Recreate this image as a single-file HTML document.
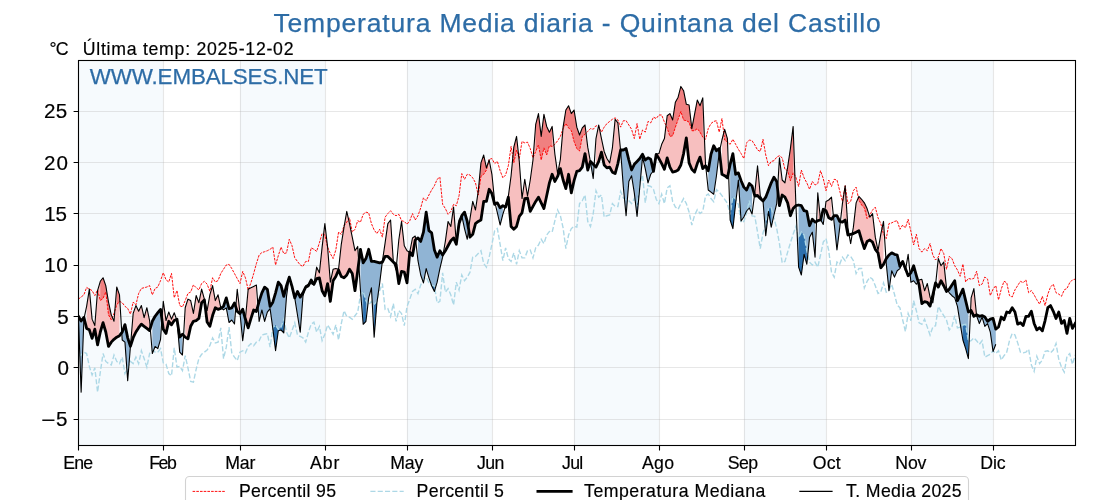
<!DOCTYPE html>
<html><head><meta charset="utf-8"><title>Temperatura Media diaria - Quintana del Castillo</title>
<style>html,body{margin:0;padding:0;background:#fff;overflow:hidden}body{width:1120px;height:500px;font-family:"Liberation Sans",sans-serif}</style></head>
<body>
<svg width="1120" height="500" viewBox="0 0 1120 500" style="display:block;will-change:transform">
<rect width="1120" height="500" fill="#fff"/>
<rect x="78.00" y="60.5" width="85.00" height="385.0" fill="#f6fafd"/>
<rect x="240.00" y="60.5" width="85.00" height="385.0" fill="#f6fafd"/>
<rect x="407.00" y="60.5" width="85.00" height="385.0" fill="#f6fafd"/>
<rect x="574.00" y="60.5" width="85.00" height="385.0" fill="#f6fafd"/>
<rect x="744.00" y="60.5" width="82.00" height="385.0" fill="#f6fafd"/>
<rect x="911.00" y="60.5" width="82.00" height="385.0" fill="#f6fafd"/>
<path d="M78.50 60.5V445.5 M163.50 60.5V445.5 M240.50 60.5V445.5 M325.50 60.5V445.5 M407.50 60.5V445.5 M492.50 60.5V445.5 M574.50 60.5V445.5 M659.50 60.5V445.5 M744.50 60.5V445.5 M826.50 60.5V445.5 M911.50 60.5V445.5 M993.50 60.5V445.5" stroke="#b0b0b0" stroke-opacity="0.3" stroke-width="1.1" fill="none"/>
<path d="M78.5 419.50H1075.5 M78.5 367.50H1075.5 M78.5 316.50H1075.5 M78.5 265.50H1075.5 M78.5 213.50H1075.5 M78.5 162.50H1075.5 M78.5 111.50H1075.5" stroke="#b0b0b0" stroke-opacity="0.3" stroke-width="1.1" fill="none"/>
<clipPath id="ax"><rect x="78.5" y="60.5" width="997.0" height="385.0"/></clipPath>
<g clip-path="url(#ax)">
<polygon points="86.62,306.29 89.35,289.14 92.09,319.14 94.83,325.57 97.57,290.57 100.31,281.29 103.05,277.71 105.78,285.57 108.52,302.00 111.26,314.86 114.00,321.29 116.74,287.00 119.48,294.86 119.48,335.71 116.74,337.14 114.00,339.29 111.26,342.14 108.52,346.43 105.78,332.00 103.05,322.71 100.31,332.00 97.57,344.86 94.83,329.14 92.09,338.43 89.35,329.86 86.62,328.43" fill="#f7bfbf"/>
<polygon points="130.43,346.43 133.17,313.43 135.91,305.57 138.65,311.29 141.38,305.57 144.12,317.71 146.86,307.71 149.60,320.57 149.60,330.57 146.86,328.43 144.12,326.29 141.38,324.14 138.65,327.71 135.91,332.00 133.17,337.71 130.43,346.43" fill="#f7bfbf"/>
<polygon points="163.29,301.29 166.03,320.57 168.77,312.00 171.51,319.14 174.25,312.71 174.25,320.57 171.51,324.86 168.77,321.29 166.03,333.43 163.29,329.14" fill="#f7bfbf"/>
<polygon points="185.20,307.71 187.94,299.14 190.68,300.57 193.42,313.43 196.15,295.57 198.89,302.71 201.63,289.14 204.37,299.14 207.11,310.57 209.85,294.86 212.58,285.57 215.32,300.57 218.06,294.86 220.80,307.71 220.80,308.43 218.06,309.43 215.32,307.71 212.58,315.57 209.85,326.29 207.11,322.00 204.37,299.86 201.63,302.71 198.89,318.43 196.15,320.57 193.42,321.29 190.68,326.29 187.94,338.86 185.20,337.14" fill="#f7bfbf"/>
<polygon points="237.23,289.29 239.97,313.00 239.97,313.57 237.23,311.43" fill="#f7bfbf"/>
<polygon points="245.45,318.57 248.18,289.29 250.92,287.86 253.66,286.43 256.40,285.00 256.40,311.43 253.66,310.00 250.92,318.57 248.18,327.86 245.45,319.29" fill="#f7bfbf"/>
<polygon points="305.69,285.71 308.43,284.29 308.43,285.71 305.69,287.14" fill="#f7bfbf"/>
<polygon points="313.91,285.00 316.65,267.14 319.38,272.86 322.12,247.14 324.86,223.57 327.60,247.14 330.34,282.14 333.08,269.29 335.82,268.57 338.55,269.29 341.29,244.29 344.03,227.14 346.77,211.43 349.51,223.57 352.25,237.14 354.98,250.71 357.72,246.43 357.72,270.71 354.98,290.71 352.25,273.57 349.51,269.29 346.77,275.00 344.03,277.86 341.29,276.43 338.55,270.00 335.82,276.43 333.08,280.71 330.34,301.43 327.60,283.57 324.86,295.71 322.12,290.71 319.38,277.86 316.65,278.57 313.91,284.29" fill="#f7bfbf"/>
<polygon points="382.37,261.43 385.11,242.86 387.85,223.57 390.58,220.00 393.32,261.43 393.32,262.14 390.58,259.29 387.85,256.43 385.11,256.43 382.37,262.14" fill="#f7bfbf"/>
<polygon points="398.80,240.00 401.54,221.43 404.28,245.71 407.02,250.71 409.75,252.14 412.49,238.00 415.23,236.00 415.23,240.00 412.49,255.71 409.75,252.14 407.02,282.86 404.28,272.14 401.54,271.43 398.80,283.57" fill="#f7bfbf"/>
<polygon points="445.35,241.43 448.09,221.43 450.83,226.43 453.57,207.14 456.31,242.86 459.05,220.00 461.78,215.71 461.78,215.71 459.05,223.57 456.31,244.29 453.57,237.86 450.83,240.71 448.09,245.71 445.35,250.71" fill="#f7bfbf"/>
<polygon points="470.00,218.57 472.74,201.43 475.48,210.00 478.22,191.43 480.95,162.86 483.69,155.00 486.43,167.86 489.17,160.00 491.91,174.29 494.65,201.43 494.65,204.29 491.91,193.57 489.17,189.29 486.43,201.43 483.69,201.43 480.95,220.00 478.22,221.43 475.48,223.57 472.74,234.29 470.00,237.14" fill="#f7bfbf"/>
<polygon points="505.60,205.71 508.34,196.43 511.08,175.71 513.82,147.14 516.55,136.43 519.29,161.43 522.03,198.57 524.77,179.29 527.51,196.00 530.25,180.00 532.98,160.00 535.72,124.29 538.46,113.57 541.20,136.43 543.94,114.29 546.68,126.43 549.42,132.14 552.15,126.43 554.89,154.29 557.63,173.57 560.37,159.29 563.11,127.14 565.85,110.00 568.58,105.71 571.32,113.57 574.06,110.00 576.80,127.14 579.54,135.00 582.28,127.86 585.02,125.00 587.75,147.14 590.49,162.20 590.49,161.43 587.75,170.00 585.02,153.57 582.28,167.14 579.54,170.71 576.80,171.43 574.06,180.71 571.32,192.86 568.58,174.29 565.85,188.57 563.11,180.00 560.37,168.57 557.63,176.43 554.89,181.43 552.15,174.29 549.42,182.86 546.68,195.71 543.94,208.57 541.20,202.86 538.46,197.14 535.72,201.43 532.98,206.43 530.25,211.43 527.51,198.00 524.77,198.57 522.03,212.86 519.29,216.43 516.55,226.43 513.82,229.29 511.08,226.43 508.34,197.14 505.60,207.14" fill="#f7bfbf"/>
<polygon points="595.97,138.57 598.71,125.00 601.45,138.57 604.18,151.43 606.92,158.57 609.66,162.86 612.40,147.86 615.14,119.29 617.88,122.86 620.62,150.71 620.62,150.00 617.88,163.57 615.14,173.57 612.40,172.14 609.66,167.14 606.92,167.86 604.18,165.00 601.45,152.14 598.71,161.43 595.97,167.14" fill="#f7bfbf"/>
<polygon points="653.48,170.71 656.22,154.29 658.95,153.57 661.69,144.29 664.43,138.57 667.17,115.71 669.91,113.57 672.65,120.00 675.38,102.14 678.12,97.14 680.86,86.43 683.60,90.71 686.34,104.29 689.08,105.00 691.82,128.57 694.55,114.29 697.29,100.00 700.03,105.71 702.77,97.86 705.51,164.29 705.51,165.71 702.77,168.57 700.03,157.14 697.29,163.57 694.55,172.14 691.82,169.29 689.08,162.86 686.34,137.86 683.60,153.57 680.86,165.00 678.12,170.00 675.38,171.43 672.65,172.14 669.91,167.14 667.17,157.86 664.43,169.29 661.69,163.57 658.95,158.57 656.22,154.29 653.48,171.43" fill="#f7bfbf"/>
<polygon points="721.94,140.00 724.68,129.29 727.42,138.57 727.42,177.86 724.68,175.71 721.94,174.29" fill="#f7bfbf"/>
<polygon points="754.80,192.86 757.54,165.71 760.28,195.71 763.01,200.71 763.01,201.00 760.28,198.50 757.54,195.50 754.80,196.00" fill="#f7bfbf"/>
<polygon points="779.45,157.86 782.18,180.00 784.92,182.86 787.66,167.14 790.40,148.57 793.14,126.43 795.88,204.29 795.88,205.71 793.14,208.57 790.40,215.71 787.66,202.86 784.92,197.14 782.18,195.00 779.45,205.71" fill="#f7bfbf"/>
<polygon points="817.78,192.86 820.52,219.50 820.52,220.00 817.78,220.71" fill="#f7bfbf"/>
<polygon points="826.00,201.43 828.74,200.00 831.48,197.14 831.48,219.29 828.74,217.86 826.00,210.71" fill="#f7bfbf"/>
<polygon points="842.43,203.57 845.17,185.71 847.91,227.86 847.91,235.00 845.17,220.00 842.43,222.14" fill="#f7bfbf"/>
<polygon points="853.38,227.14 856.12,202.86 858.86,196.43 861.60,199.29 864.34,202.86 867.08,208.57 869.81,217.14 872.55,213.57 875.29,237.14 878.03,250.71 880.77,234.29 883.51,221.43 883.51,264.29 880.77,267.86 878.03,252.86 875.29,249.29 872.55,242.14 869.81,240.00 867.08,241.43 864.34,248.57 861.60,240.00 858.86,230.71 856.12,232.14 853.38,233.57" fill="#f7bfbf"/>
<polygon points="919.11,280.00 921.85,279.29 924.58,290.71 927.32,283.57 930.06,297.14 930.06,306.14 927.32,302.43 924.58,301.71 921.85,303.57 919.11,285.00" fill="#f7bfbf"/>
<polygon points="938.28,258.57 941.01,265.71 943.75,262.14 946.49,287.86 946.49,291.43 943.75,285.71 941.01,280.71 938.28,287.14" fill="#f7bfbf"/>
<polygon points="971.14,297.86 973.88,288.57 976.61,315.71 976.61,314.86 973.88,316.29 971.14,310.57" fill="#f7bfbf"/>
<polygon points="78.40,316.29 81.14,392.14 83.88,319.14 83.88,317.43 81.14,321.00 78.40,316.29" fill="#90b4d4"/>
<polygon points="122.22,340.00 124.95,342.14 127.69,380.71 130.43,346.43 130.43,346.43 127.69,337.86 124.95,324.57 122.22,332.14" fill="#90b4d4"/>
<polygon points="152.34,353.57 155.08,346.43 157.82,348.57 160.55,339.29 160.55,309.43 157.82,312.71 155.08,316.29 152.34,321.29" fill="#90b4d4"/>
<polygon points="176.98,320.57 179.72,352.14 182.46,355.00 182.46,334.29 179.72,337.00 176.98,319.14" fill="#90b4d4"/>
<polygon points="220.80,307.71 223.54,309.86 226.28,307.86 229.02,322.50 231.75,320.00 234.49,324.00 234.49,302.86 231.75,307.86 229.02,308.57 226.28,297.86 223.54,306.29 220.80,308.43" fill="#90b4d4"/>
<polygon points="239.97,313.00 242.71,340.71 245.45,318.57 245.45,319.29 242.71,309.29 239.97,313.57" fill="#90b4d4"/>
<polygon points="259.14,321.43 261.88,310.00 264.62,321.43 267.35,312.14 270.09,308.57 272.83,328.57 275.57,350.71 278.31,330.71 281.05,330.00 283.78,332.86 286.52,296.43 289.26,276.43 292.00,287.86 294.74,297.86 297.48,315.00 300.22,332.14 302.95,296.43 302.95,292.86 300.22,297.14 297.48,291.43 294.74,297.86 292.00,286.43 289.26,277.14 286.52,285.71 283.78,296.43 281.05,285.71 278.31,282.14 275.57,292.86 272.83,302.14 270.09,306.43 267.35,289.29 264.62,287.14 261.88,292.86 259.14,301.43" fill="#90b4d4"/>
<polygon points="311.17,283.57 313.91,285.00 313.91,284.29 311.17,280.00" fill="#90b4d4"/>
<polygon points="360.46,290.71 363.20,324.29 365.94,321.43 368.68,297.86 371.42,287.86 374.15,337.14 376.89,303.00 379.63,283.57 382.37,261.43 382.37,262.14 379.63,262.86 376.89,262.14 374.15,261.43 371.42,261.43 368.68,249.29 365.94,258.57 363.20,262.86 360.46,249.29" fill="#90b4d4"/>
<polygon points="393.32,261.43 396.06,270.00 396.06,264.29 393.32,262.14" fill="#90b4d4"/>
<polygon points="417.97,260.71 420.71,275.00 423.45,282.86 426.18,268.57 428.92,277.86 431.66,285.71 434.40,291.43 437.14,282.14 439.88,268.57 442.62,257.14 442.62,255.00 439.88,250.71 437.14,257.14 434.40,250.00 431.66,232.86 428.92,230.71 426.18,212.14 423.45,232.14 420.71,241.43 417.97,237.86" fill="#90b4d4"/>
<polygon points="461.78,215.71 464.52,228.57 467.26,239.29 467.26,221.43 464.52,212.14 461.78,215.71" fill="#90b4d4"/>
<polygon points="497.38,212.86 500.12,225.00 502.86,214.29 502.86,205.71 500.12,207.86 497.38,202.86" fill="#90b4d4"/>
<polygon points="590.49,162.20 593.23,178.57 593.23,164.29 590.49,161.43" fill="#90b4d4"/>
<polygon points="620.62,150.71 623.35,187.14 626.09,215.71 628.83,181.43 631.57,175.71 634.31,192.86 637.05,216.43 639.78,187.14 642.52,157.14 645.26,168.57 648.00,182.86 650.74,174.29 653.48,170.71 656.22,154.29 656.22,154.29 653.48,171.43 650.74,159.29 648.00,157.86 645.26,160.00 642.52,154.29 639.78,158.57 637.05,161.43 634.31,164.29 631.57,170.00 628.83,160.00 626.09,148.57 623.35,150.00 620.62,150.00" fill="#90b4d4"/>
<polygon points="708.25,190.00 710.98,192.14 713.72,194.29 716.46,175.71 719.20,152.86 719.20,148.57 716.46,150.71 713.72,145.71 710.98,154.29 708.25,170.71" fill="#90b4d4"/>
<polygon points="730.15,220.00 732.89,228.57 735.63,203.57 738.37,180.00 741.11,221.00 743.85,217.00 746.58,211.00 749.32,208.00 752.06,214.00 752.06,186.00 749.32,183.50 746.58,190.00 743.85,187.14 741.11,180.71 738.37,172.86 735.63,174.29 732.89,153.57 730.15,164.29" fill="#90b4d4"/>
<polygon points="763.01,200.71 765.75,235.71 768.49,211.43 771.23,227.14 773.97,215.00 776.71,203.57 776.71,181.43 773.97,177.14 771.23,182.86 768.49,190.00 765.75,197.14 763.01,201.00" fill="#90b4d4"/>
<polygon points="798.61,267.14 801.35,275.00 804.09,254.29 806.83,264.29 809.57,237.14 812.31,232.14 815.05,257.14 815.05,222.14 812.31,219.29 809.57,225.71 806.83,211.43 804.09,210.71 801.35,205.71 798.61,205.00" fill="#90b4d4"/>
<polygon points="820.52,219.50 823.26,224.50 823.26,209.29 820.52,220.00" fill="#90b4d4"/>
<polygon points="834.21,223.57 836.95,250.00 839.69,227.86 839.69,221.43 836.95,215.71 834.21,215.71" fill="#90b4d4"/>
<polygon points="886.25,263.57 888.98,290.71 891.72,270.71 894.46,277.14 897.20,270.71 899.94,268.57 902.68,261.43 905.41,270.71 905.41,268.57 902.68,261.43 899.94,266.43 897.20,255.00 894.46,254.29 891.72,252.86 888.98,255.00 886.25,258.57" fill="#90b4d4"/>
<polygon points="910.89,282.14 913.63,280.71 916.37,284.29 916.37,275.71 913.63,265.71 910.89,272.86" fill="#90b4d4"/>
<polygon points="932.80,302.86 935.54,285.00 935.54,282.86 932.80,295.00" fill="#90b4d4"/>
<polygon points="949.23,292.86 951.97,295.71 954.71,297.86 957.45,306.43 960.18,323.57 962.92,340.00 965.66,348.57 968.40,358.57 968.40,312.00 965.66,300.57 962.92,289.14 960.18,295.00 957.45,300.71 954.71,280.71 951.97,285.00 949.23,289.29" fill="#90b4d4"/>
<polygon points="976.61,315.71 979.35,323.57 982.09,317.14 984.83,326.43 987.57,323.57 990.31,332.14 993.05,351.43 995.78,344.29 995.78,329.14 993.05,318.43 990.31,319.14 987.57,321.29 984.83,317.00 982.09,315.57 979.35,316.29 976.61,314.86" fill="#90b4d4"/>
<polygon points="100.31,281.29 103.05,277.71 105.78,285.57 108.52,302.00 111.26,314.86 111.26,319.86 108.52,314.86 105.78,292.00 103.05,298.43 100.31,300.57" fill="#f08080"/>
<polygon points="116.74,287.00 119.48,294.86 119.48,301.29 116.74,304.86" fill="#f08080"/>
<polygon points="478.22,191.43 480.95,162.86 483.69,155.00 486.43,167.86 486.43,170.00 483.69,174.29 480.95,176.43 478.22,195.00" fill="#f08080"/>
<polygon points="513.82,147.14 516.55,136.43 516.55,150.00 513.82,162.86" fill="#f08080"/>
<polygon points="535.72,124.29 538.46,113.57 541.20,136.43 543.94,114.29 546.68,126.43 549.42,132.14 552.15,126.43 552.15,146.43 549.42,145.71 546.68,155.00 543.94,147.86 541.20,160.00 538.46,145.00 535.72,151.43" fill="#f08080"/>
<polygon points="563.11,127.14 565.85,110.00 568.58,105.71 571.32,113.57 574.06,110.00 576.80,127.14 579.54,135.00 582.28,127.86 585.02,125.00 585.02,134.29 582.28,136.43 579.54,151.00 576.80,148.57 574.06,141.43 571.32,130.71 568.58,127.86 565.85,123.57 563.11,128.57" fill="#f08080"/>
<polygon points="667.17,115.71 669.91,113.57 672.65,120.00 675.38,102.14 678.12,97.14 680.86,86.43 683.60,90.71 686.34,104.29 689.08,105.00 691.82,128.57 694.55,114.29 697.29,100.00 700.03,105.71 702.77,97.86 702.77,137.14 700.03,132.14 697.29,128.57 694.55,130.71 691.82,130.71 689.08,122.14 686.34,120.71 683.60,120.00 680.86,111.43 678.12,119.29 675.38,127.14 672.65,135.71 669.91,136.43 667.17,127.86" fill="#f08080"/>
<polygon points="724.68,129.29 727.42,138.57 727.42,142.14 724.68,140.00" fill="#f08080"/>
<polygon points="787.66,167.14 790.40,148.57 793.14,126.43 793.14,172.86 790.40,180.71 787.66,170.71" fill="#f08080"/>
<polygon points="858.86,196.43 861.60,199.29 864.34,202.86 867.08,208.57 867.08,218.57 864.34,207.86 861.60,205.00 858.86,200.00" fill="#f08080"/>
<polygon points="272.83,328.57 275.57,350.71 278.31,330.71 281.05,330.00 283.78,332.86 283.78,319.29 281.05,327.14 278.31,329.50 275.57,325.00 272.83,327.50" fill="#2c70ad"/>
<polygon points="363.20,324.29 365.94,321.43 365.94,300.71 363.20,291.43" fill="#2c70ad"/>
<polygon points="374.15,337.14 376.89,303.00 376.89,301.43 374.15,304.29" fill="#2c70ad"/>
<polygon points="431.66,285.71 434.40,291.43 434.40,286.14 431.66,285.29" fill="#2c70ad"/>
<polygon points="637.05,216.43 639.78,187.14 639.78,184.29 637.05,206.43" fill="#2c70ad"/>
<polygon points="730.15,220.00 732.89,228.57 735.63,203.57 735.63,199.00 732.89,196.50 730.15,214.60" fill="#2c70ad"/>
<polygon points="765.75,235.71 768.49,211.43 771.23,227.14 771.23,207.86 768.49,208.50 765.75,224.29" fill="#2c70ad"/>
<polygon points="798.61,267.14 801.35,275.00 804.09,254.29 806.83,264.29 806.83,250.71 804.09,235.00 801.35,232.14 798.61,237.86" fill="#2c70ad"/>
<polygon points="962.92,340.00 965.66,348.57 968.40,358.57 968.40,341.43 965.66,324.29 962.92,325.00" fill="#2c70ad"/>
<polyline points="78.40,299.14 81.14,297.00 83.88,294.86 86.62,287.43 89.35,289.14 92.09,290.57 94.83,295.57 97.57,289.86 100.31,300.57 103.05,298.43 105.78,292.00 108.52,314.86 111.26,319.86 114.00,313.43 116.74,304.86 119.48,301.29 122.22,302.71 124.95,306.29 127.69,308.43 130.43,314.14 133.17,302.00 135.91,304.86 138.65,293.43 141.38,288.43 144.12,287.71 146.86,287.00 149.60,285.57 152.34,294.86 155.08,288.43 157.82,287.00 160.55,280.57 163.29,272.71 166.03,279.86 168.77,282.00 171.51,273.43 174.25,297.71 176.98,290.57 179.72,305.57 182.46,307.00 185.20,300.57 187.94,293.43 190.68,292.00 193.42,284.86 196.15,287.71 198.89,289.86 201.63,283.43 204.37,281.29 207.11,284.14 209.85,291.29 212.58,277.71 215.32,282.00 218.06,280.57 220.80,273.43 223.54,269.21 226.28,265.00 229.02,264.29 231.75,268.57 234.49,273.57 237.23,278.57 239.97,283.57 242.71,271.43 245.45,277.86 248.18,290.00 250.92,282.86 253.66,273.57 256.40,263.57 259.14,255.00 261.88,252.57 264.62,251.71 267.35,250.71 270.09,249.29 272.83,247.14 275.57,265.00 278.31,255.71 281.05,247.14 283.78,253.57 286.52,252.86 289.26,239.29 292.00,245.71 294.74,257.86 297.48,261.43 300.22,265.00 302.95,266.43 305.69,261.43 308.43,261.43 311.17,247.86 313.91,249.29 316.65,251.43 319.38,242.86 322.12,233.57 324.86,235.00 327.60,247.14 330.34,253.57 333.08,258.57 335.82,250.00 338.55,232.14 341.29,234.29 344.03,225.71 346.77,222.14 349.51,217.86 352.25,232.14 354.98,229.29 357.72,220.71 360.46,222.14 363.20,214.29 365.94,212.14 368.68,212.86 371.42,223.57 374.15,230.00 376.89,233.57 379.63,229.29 382.37,237.14 385.11,217.14 387.85,213.57 390.58,210.71 393.32,214.29 396.06,215.71 398.80,214.29 401.54,220.71 404.28,221.43 407.02,224.29 409.75,220.71 412.49,213.57 415.23,220.00 417.97,215.71 420.71,207.86 423.45,197.86 426.18,200.71 428.92,195.00 431.66,190.00 434.40,185.71 437.14,179.29 439.88,177.14 442.62,204.29 445.35,208.57 448.09,214.29 450.83,211.43 453.57,204.29 456.31,205.71 459.05,195.71 461.78,173.57 464.52,179.29 467.26,174.29 470.00,175.00 472.74,177.86 475.48,182.86 478.22,195.00 480.95,176.43 483.69,174.29 486.43,170.00 489.17,159.29 491.91,158.57 494.65,163.57 497.38,161.43 500.12,170.71 502.86,177.86 505.60,175.00 508.34,165.71 511.08,146.43 513.82,162.86 516.55,150.00 519.29,158.57 522.03,141.43 524.77,142.86 527.51,142.14 530.25,148.57 532.98,157.86 535.72,151.43 538.46,145.00 541.20,160.00 543.94,147.86 546.68,155.00 549.42,145.71 552.15,146.43 554.89,144.29 557.63,140.71 560.37,136.43 563.11,128.57 565.85,123.57 568.58,127.86 571.32,130.71 574.06,141.43 576.80,148.57 579.54,151.00 582.28,136.43 585.02,134.29 587.75,131.43 590.49,128.57 593.23,129.29 595.97,125.71 598.71,126.43 601.45,132.14 604.18,127.14 606.92,123.57 609.66,121.43 612.40,119.29 615.14,117.86 617.88,120.00 620.62,127.14 623.35,120.71 626.09,120.71 628.83,125.00 631.57,129.29 634.31,138.57 637.05,123.57 639.78,139.29 642.52,130.00 645.26,132.14 648.00,121.43 650.74,122.86 653.48,117.14 656.22,118.57 658.95,115.00 661.69,115.00 664.43,122.14 667.17,127.86 669.91,136.43 672.65,135.71 675.38,127.14 678.12,119.29 680.86,111.43 683.60,120.00 686.34,120.71 689.08,122.14 691.82,130.71 694.55,130.71 697.29,128.57 700.03,132.14 702.77,137.14 705.51,139.29 708.25,128.57 710.98,123.57 713.72,121.43 716.46,120.71 719.20,132.14 721.94,118.57 724.68,140.00 727.42,142.14 730.15,144.29 732.89,139.29 735.63,144.29 738.37,149.29 741.11,153.57 743.85,158.57 746.58,142.86 749.32,140.00 752.06,140.71 754.80,145.00 757.54,150.00 760.28,151.43 763.01,139.29 765.75,155.00 768.49,165.71 771.23,161.43 773.97,160.71 776.71,157.14 779.45,155.71 782.18,157.86 784.92,169.29 787.66,170.71 790.40,180.71 793.14,172.86 795.88,177.14 798.61,186.43 801.35,170.00 804.09,177.86 806.83,182.86 809.57,189.29 812.31,181.43 815.05,185.00 817.78,183.57 820.52,170.71 823.26,178.57 826.00,190.71 828.74,180.00 831.48,186.43 834.21,179.29 836.95,180.00 839.69,190.71 842.43,201.43 845.17,185.71 847.91,203.57 850.65,201.43 853.38,190.71 856.12,187.14 858.86,200.00 861.60,205.00 864.34,207.86 867.08,218.57 869.81,215.00 872.55,210.00 875.29,207.14 878.03,217.86 880.77,223.57 883.51,234.29 886.25,238.57 888.98,223.57 891.72,222.86 894.46,221.43 897.20,220.71 899.94,229.29 902.68,225.00 905.41,227.86 908.15,219.29 910.89,231.43 913.63,245.00 916.37,234.29 919.11,248.57 921.85,252.14 924.58,248.57 927.32,250.71 930.06,243.57 932.80,255.00 935.54,260.00 938.28,257.14 941.01,248.57 943.75,253.57 946.49,269.29 949.23,256.43 951.97,258.57 954.71,265.71 957.45,270.00 960.18,276.29 962.92,264.14 965.66,282.00 968.40,278.43 971.14,279.14 973.88,278.43 976.61,271.29 979.35,285.57 982.09,284.14 984.83,277.00 987.57,279.14 990.31,295.57 993.05,289.14 995.78,285.57 998.52,299.86 1001.26,289.14 1004.00,281.29 1006.74,282.71 1009.48,295.57 1012.21,297.00 1014.95,289.86 1017.69,285.57 1020.43,281.29 1023.17,282.71 1025.91,279.86 1028.65,292.71 1031.38,290.57 1034.12,294.86 1036.86,299.86 1039.60,304.14 1042.34,296.29 1045.08,305.57 1047.81,294.14 1050.55,287.00 1053.29,284.14 1056.03,292.71 1058.77,294.14 1061.51,296.29 1064.25,289.86 1066.98,288.43 1069.72,282.71 1072.46,279.86 1075.20,279.14" fill="none" stroke="#ff0000" stroke-width="0.95" stroke-dasharray="2.6 1.1"/>
<polyline points="78.40,355.71 81.14,355.00 83.88,352.14 86.62,353.57 89.35,366.43 92.09,375.00 94.83,367.86 97.57,392.14 100.31,372.14 103.05,353.57 105.78,361.43 108.52,363.57 111.26,365.00 114.00,355.00 116.74,361.43 119.48,363.57 122.22,357.14 124.95,373.57 127.69,367.86 130.43,361.43 133.17,363.57 135.91,357.14 138.65,363.57 141.38,350.71 144.12,358.57 146.86,367.14 149.60,353.57 152.34,350.00 155.08,352.14 157.82,352.14 160.55,348.57 163.29,362.86 166.03,364.29 168.77,373.57 171.51,375.71 174.25,347.86 176.98,367.14 179.72,366.43 182.46,370.71 185.20,355.71 187.94,367.86 190.68,381.43 193.42,382.14 196.15,369.29 198.89,358.57 201.63,354.29 204.37,352.14 207.11,350.00 209.85,345.71 212.58,337.86 215.32,342.86 218.06,342.14 220.80,327.86 223.54,358.57 226.28,347.14 229.02,327.14 231.75,352.86 234.49,357.14 237.23,360.71 239.97,352.14 242.71,350.71 245.45,352.86 248.18,346.43 250.92,343.57 253.66,345.71 256.40,342.14 259.14,340.71 261.88,335.00 264.62,334.29 267.35,333.57 270.09,347.14 272.83,327.50 275.57,325.00 278.31,329.50 281.05,327.14 283.78,319.29 286.52,332.14 289.26,337.86 292.00,330.71 294.74,322.86 297.48,335.00 300.22,336.43 302.95,337.86 305.69,342.14 308.43,332.14 311.17,324.29 313.91,322.14 316.65,332.14 319.38,326.43 322.12,340.71 324.86,334.29 327.60,325.00 330.34,329.29 333.08,334.29 335.82,325.00 338.55,340.00 341.29,323.57 344.03,310.71 346.77,316.43 349.51,317.14 352.25,319.29 354.98,315.71 357.72,312.14 360.46,295.00 363.20,291.43 365.94,300.71 368.68,305.00 371.42,301.43 374.15,304.29 376.89,301.43 379.63,290.70 382.37,283.57 385.11,309.29 387.85,308.57 390.58,316.43 393.32,303.57 396.06,321.43 398.80,310.71 401.54,313.57 404.28,325.71 407.02,306.43 409.75,299.29 412.49,291.43 415.23,289.29 417.97,293.57 420.71,285.00 423.45,279.29 426.18,277.14 428.92,282.86 431.66,285.29 434.40,286.14 437.14,302.86 439.88,301.43 442.62,272.86 445.35,292.14 448.09,288.57 450.83,295.00 453.57,305.00 456.31,282.14 459.05,290.00 461.78,275.00 464.52,280.71 467.26,277.14 470.00,272.14 472.74,257.14 475.48,256.43 478.22,253.57 480.95,250.71 483.69,263.57 486.43,267.14 489.17,257.14 491.91,244.29 494.65,230.71 497.38,228.57 500.12,244.29 502.86,260.71 505.60,247.86 508.34,258.57 511.08,261.43 513.82,252.86 516.55,264.29 519.29,250.71 522.03,257.86 524.77,257.86 527.51,250.71 530.25,250.00 532.98,257.86 535.72,247.86 538.46,245.00 541.20,239.29 543.94,243.57 546.68,235.00 549.42,231.43 552.15,232.14 554.89,220.71 557.63,210.00 560.37,215.71 563.11,227.86 565.85,248.57 568.58,235.00 571.32,228.57 574.06,226.43 576.80,227.14 579.54,203.57 582.28,200.71 585.02,195.00 587.75,221.43 590.49,226.43 593.23,213.57 595.97,190.71 598.71,197.14 601.45,195.00 604.18,217.14 606.92,215.71 609.66,215.00 612.40,203.57 615.14,206.43 617.88,206.43 620.62,191.43 623.35,197.86 626.09,200.00 628.83,200.71 631.57,203.57 634.31,198.57 637.05,206.43 639.78,184.29 642.52,175.00 645.26,202.86 648.00,185.71 650.74,186.43 653.48,189.29 656.22,199.29 658.95,203.57 661.69,194.29 664.43,203.57 667.17,187.86 669.91,185.71 672.65,201.43 675.38,207.14 678.12,209.29 680.86,203.57 683.60,198.57 686.34,203.57 689.08,212.00 691.82,225.00 694.55,215.40 697.29,209.70 700.03,213.40 702.77,211.40 705.51,196.00 708.25,194.00 710.98,198.50 713.72,201.70 716.46,189.60 719.20,192.00 721.94,195.70 724.68,199.30 727.42,203.30 730.15,214.60 732.89,196.50 735.63,199.00 738.37,204.50 741.11,222.50 743.85,221.43 746.58,213.00 749.32,200.71 752.06,216.00 754.80,216.43 757.54,232.14 760.28,248.57 763.01,232.86 765.75,224.29 768.49,208.50 771.23,207.86 773.97,217.86 776.71,228.57 779.45,243.57 782.18,262.86 784.92,261.43 787.66,252.14 790.40,242.86 793.14,234.29 795.88,226.43 798.61,237.86 801.35,232.14 804.09,235.00 806.83,250.71 809.57,262.14 812.31,265.00 815.05,262.14 817.78,267.14 820.52,255.00 823.26,242.14 826.00,238.57 828.74,250.71 831.48,272.14 834.21,277.14 836.95,262.14 839.69,264.29 842.43,257.14 845.17,260.71 847.91,255.00 850.65,256.43 853.38,260.71 856.12,273.57 858.86,268.57 861.60,268.57 864.34,287.86 867.08,281.43 869.81,277.14 872.55,279.29 875.29,285.71 878.03,293.57 880.77,292.14 883.51,282.86 886.25,292.14 888.98,290.00 891.72,284.29 894.46,294.29 897.20,305.00 899.94,307.86 902.68,320.00 905.41,331.43 908.15,313.57 910.89,320.71 913.63,300.71 916.37,310.71 919.11,322.86 921.85,324.29 924.58,319.29 927.32,327.14 930.06,335.00 932.80,327.14 935.54,325.71 938.28,306.43 941.01,311.43 943.75,315.71 946.49,320.00 949.23,330.00 951.97,326.43 954.71,315.71 957.45,327.86 960.18,327.14 962.92,325.00 965.66,324.29 968.40,341.43 971.14,340.71 973.88,337.86 976.61,340.71 979.35,344.29 982.09,340.71 984.83,357.14 987.57,355.71 990.31,354.29 993.05,350.71 995.78,353.57 998.52,350.71 1001.26,360.00 1004.00,355.71 1006.74,352.14 1009.48,340.71 1012.21,333.57 1014.95,335.00 1017.69,342.86 1020.43,352.14 1023.17,352.86 1025.91,352.14 1028.65,349.29 1031.38,365.00 1034.12,371.43 1036.86,356.43 1039.60,363.57 1042.34,360.00 1045.08,351.43 1047.81,350.71 1050.55,352.86 1053.29,350.00 1056.03,343.57 1058.77,359.29 1061.51,367.14 1064.25,372.14 1066.98,356.43 1069.72,353.57 1072.46,364.29 1075.20,355.00" fill="none" stroke="#add8e6" stroke-width="1.4" stroke-dasharray="5.1 2.2"/>
<polyline points="78.40,316.29 81.14,321.00 83.88,317.43 86.62,328.43 89.35,329.86 92.09,338.43 94.83,329.14 97.57,344.86 100.31,332.00 103.05,322.71 105.78,332.00 108.52,346.43 111.26,342.14 114.00,339.29 116.74,337.14 119.48,335.71 122.22,332.14 124.95,324.57 127.69,337.86 130.43,346.43 133.17,337.71 135.91,332.00 138.65,327.71 141.38,324.14 144.12,326.29 146.86,328.43 149.60,330.57 152.34,321.29 155.08,316.29 157.82,312.71 160.55,309.43 163.29,329.14 166.03,333.43 168.77,321.29 171.51,324.86 174.25,320.57 176.98,319.14 179.72,337.00 182.46,334.29 185.20,337.14 187.94,338.86 190.68,326.29 193.42,321.29 196.15,320.57 198.89,318.43 201.63,302.71 204.37,299.86 207.11,322.00 209.85,326.29 212.58,315.57 215.32,307.71 218.06,309.43 220.80,308.43 223.54,306.29 226.28,297.86 229.02,308.57 231.75,307.86 234.49,302.86 237.23,311.43 239.97,313.57 242.71,309.29 245.45,319.29 248.18,327.86 250.92,318.57 253.66,310.00 256.40,311.43 259.14,301.43 261.88,292.86 264.62,287.14 267.35,289.29 270.09,306.43 272.83,302.14 275.57,292.86 278.31,282.14 281.05,285.71 283.78,296.43 286.52,285.71 289.26,277.14 292.00,286.43 294.74,297.86 297.48,291.43 300.22,297.14 302.95,292.86 305.69,287.14 308.43,285.71 311.17,280.00 313.91,284.29 316.65,278.57 319.38,277.86 322.12,290.71 324.86,295.71 327.60,283.57 330.34,301.43 333.08,280.71 335.82,276.43 338.55,270.00 341.29,276.43 344.03,277.86 346.77,275.00 349.51,269.29 352.25,273.57 354.98,290.71 357.72,270.71 360.46,249.29 363.20,262.86 365.94,258.57 368.68,249.29 371.42,261.43 374.15,261.43 376.89,262.14 379.63,262.86 382.37,262.14 385.11,256.43 387.85,256.43 390.58,259.29 393.32,262.14 396.06,264.29 398.80,283.57 401.54,271.43 404.28,272.14 407.02,282.86 409.75,252.14 412.49,255.71 415.23,240.00 417.97,237.86 420.71,241.43 423.45,232.14 426.18,212.14 428.92,230.71 431.66,232.86 434.40,250.00 437.14,257.14 439.88,250.71 442.62,255.00 445.35,250.71 448.09,245.71 450.83,240.71 453.57,237.86 456.31,244.29 459.05,223.57 461.78,215.71 464.52,212.14 467.26,221.43 470.00,237.14 472.74,234.29 475.48,223.57 478.22,221.43 480.95,220.00 483.69,201.43 486.43,201.43 489.17,189.29 491.91,193.57 494.65,204.29 497.38,202.86 500.12,207.86 502.86,205.71 505.60,207.14 508.34,197.14 511.08,226.43 513.82,229.29 516.55,226.43 519.29,216.43 522.03,212.86 524.77,198.57 527.51,198.00 530.25,211.43 532.98,206.43 535.72,201.43 538.46,197.14 541.20,202.86 543.94,208.57 546.68,195.71 549.42,182.86 552.15,174.29 554.89,181.43 557.63,176.43 560.37,168.57 563.11,180.00 565.85,188.57 568.58,174.29 571.32,192.86 574.06,180.71 576.80,171.43 579.54,170.71 582.28,167.14 585.02,153.57 587.75,170.00 590.49,161.43 593.23,164.29 595.97,167.14 598.71,161.43 601.45,152.14 604.18,165.00 606.92,167.86 609.66,167.14 612.40,172.14 615.14,173.57 617.88,163.57 620.62,150.00 623.35,150.00 626.09,148.57 628.83,160.00 631.57,170.00 634.31,164.29 637.05,161.43 639.78,158.57 642.52,154.29 645.26,160.00 648.00,157.86 650.74,159.29 653.48,171.43 656.22,154.29 658.95,158.57 661.69,163.57 664.43,169.29 667.17,157.86 669.91,167.14 672.65,172.14 675.38,171.43 678.12,170.00 680.86,165.00 683.60,153.57 686.34,137.86 689.08,162.86 691.82,169.29 694.55,172.14 697.29,163.57 700.03,157.14 702.77,168.57 705.51,165.71 708.25,170.71 710.98,154.29 713.72,145.71 716.46,150.71 719.20,148.57 721.94,174.29 724.68,175.71 727.42,177.86 730.15,164.29 732.89,153.57 735.63,174.29 738.37,172.86 741.11,180.71 743.85,187.14 746.58,190.00 749.32,183.50 752.06,186.00 754.80,196.00 757.54,195.50 760.28,198.50 763.01,201.00 765.75,197.14 768.49,190.00 771.23,182.86 773.97,177.14 776.71,181.43 779.45,205.71 782.18,195.00 784.92,197.14 787.66,202.86 790.40,215.71 793.14,208.57 795.88,205.71 798.61,205.00 801.35,205.71 804.09,210.71 806.83,211.43 809.57,225.71 812.31,219.29 815.05,222.14 817.78,220.71 820.52,220.00 823.26,209.29 826.00,210.71 828.74,217.86 831.48,219.29 834.21,215.71 836.95,215.71 839.69,221.43 842.43,222.14 845.17,220.00 847.91,235.00 850.65,234.29 853.38,233.57 856.12,232.14 858.86,230.71 861.60,240.00 864.34,248.57 867.08,241.43 869.81,240.00 872.55,242.14 875.29,249.29 878.03,252.86 880.77,267.86 883.51,264.29 886.25,258.57 888.98,255.00 891.72,252.86 894.46,254.29 897.20,255.00 899.94,266.43 902.68,261.43 905.41,268.57 908.15,275.71 910.89,272.86 913.63,265.71 916.37,275.71 919.11,285.00 921.85,303.57 924.58,301.71 927.32,302.43 930.06,306.14 932.80,295.00 935.54,282.86 938.28,287.14 941.01,280.71 943.75,285.71 946.49,291.43 949.23,289.29 951.97,285.00 954.71,280.71 957.45,300.71 960.18,295.00 962.92,289.14 965.66,300.57 968.40,312.00 971.14,310.57 973.88,316.29 976.61,314.86 979.35,316.29 982.09,315.57 984.83,317.00 987.57,321.29 990.31,319.14 993.05,318.43 995.78,329.14 998.52,327.00 1001.26,317.00 1004.00,319.86 1006.74,312.00 1009.48,312.71 1012.21,307.71 1014.95,312.00 1017.69,324.14 1020.43,322.71 1023.17,325.57 1025.91,316.29 1028.65,316.29 1031.38,311.29 1034.12,323.43 1036.86,329.86 1039.60,327.71 1042.34,330.86 1045.08,320.57 1047.81,307.71 1050.55,305.57 1053.29,311.29 1056.03,318.43 1058.77,312.00 1061.51,323.43 1064.25,320.57 1066.98,333.43 1069.72,318.43 1072.46,328.43 1075.20,323.43" fill="none" stroke="#000" stroke-width="2.8" stroke-linejoin="round" stroke-linecap="square"/>
<polyline points="78.40,316.29 81.14,392.14 83.88,319.14 86.62,306.29 89.35,289.14 92.09,319.14 94.83,325.57 97.57,290.57 100.31,281.29 103.05,277.71 105.78,285.57 108.52,302.00 111.26,314.86 114.00,321.29 116.74,287.00 119.48,294.86 122.22,340.00 124.95,342.14 127.69,380.71 130.43,346.43 133.17,313.43 135.91,305.57 138.65,311.29 141.38,305.57 144.12,317.71 146.86,307.71 149.60,320.57 152.34,353.57 155.08,346.43 157.82,348.57 160.55,339.29 163.29,301.29 166.03,320.57 168.77,312.00 171.51,319.14 174.25,312.71 176.98,320.57 179.72,352.14 182.46,355.00 185.20,307.71 187.94,299.14 190.68,300.57 193.42,313.43 196.15,295.57 198.89,302.71 201.63,289.14 204.37,299.14 207.11,310.57 209.85,294.86 212.58,285.57 215.32,300.57 218.06,294.86 220.80,307.71 223.54,309.86 226.28,307.86 229.02,322.50 231.75,320.00 234.49,324.00 237.23,289.29 239.97,313.00 242.71,340.71 245.45,318.57 248.18,289.29 250.92,287.86 253.66,286.43 256.40,285.00 259.14,321.43 261.88,310.00 264.62,321.43 267.35,312.14 270.09,308.57 272.83,328.57 275.57,350.71 278.31,330.71 281.05,330.00 283.78,332.86 286.52,296.43 289.26,276.43 292.00,287.86 294.74,297.86 297.48,315.00 300.22,332.14 302.95,296.43 305.69,285.71 308.43,284.29 311.17,283.57 313.91,285.00 316.65,267.14 319.38,272.86 322.12,247.14 324.86,223.57 327.60,247.14 330.34,282.14 333.08,269.29 335.82,268.57 338.55,269.29 341.29,244.29 344.03,227.14 346.77,211.43 349.51,223.57 352.25,237.14 354.98,250.71 357.72,246.43 360.46,290.71 363.20,324.29 365.94,321.43 368.68,297.86 371.42,287.86 374.15,337.14 376.89,303.00 379.63,283.57 382.37,261.43 385.11,242.86 387.85,223.57 390.58,220.00 393.32,261.43 396.06,270.00 398.80,240.00 401.54,221.43 404.28,245.71 407.02,250.71 409.75,252.14 412.49,238.00 415.23,236.00 417.97,260.71 420.71,275.00 423.45,282.86 426.18,268.57 428.92,277.86 431.66,285.71 434.40,291.43 437.14,282.14 439.88,268.57 442.62,257.14 445.35,241.43 448.09,221.43 450.83,226.43 453.57,207.14 456.31,242.86 459.05,220.00 461.78,215.71 464.52,228.57 467.26,239.29 470.00,218.57 472.74,201.43 475.48,210.00 478.22,191.43 480.95,162.86 483.69,155.00 486.43,167.86 489.17,160.00 491.91,174.29 494.65,201.43 497.38,212.86 500.12,225.00 502.86,214.29 505.60,205.71 508.34,196.43 511.08,175.71 513.82,147.14 516.55,136.43 519.29,161.43 522.03,198.57 524.77,179.29 527.51,196.00 530.25,180.00 532.98,160.00 535.72,124.29 538.46,113.57 541.20,136.43 543.94,114.29 546.68,126.43 549.42,132.14 552.15,126.43 554.89,154.29 557.63,173.57 560.37,159.29 563.11,127.14 565.85,110.00 568.58,105.71 571.32,113.57 574.06,110.00 576.80,127.14 579.54,135.00 582.28,127.86 585.02,125.00 587.75,147.14 590.49,162.20 593.23,178.57 595.97,138.57 598.71,125.00 601.45,138.57 604.18,151.43 606.92,158.57 609.66,162.86 612.40,147.86 615.14,119.29 617.88,122.86 620.62,150.71 623.35,187.14 626.09,215.71 628.83,181.43 631.57,175.71 634.31,192.86 637.05,216.43 639.78,187.14 642.52,157.14 645.26,168.57 648.00,182.86 650.74,174.29 653.48,170.71 656.22,154.29 658.95,153.57 661.69,144.29 664.43,138.57 667.17,115.71 669.91,113.57 672.65,120.00 675.38,102.14 678.12,97.14 680.86,86.43 683.60,90.71 686.34,104.29 689.08,105.00 691.82,128.57 694.55,114.29 697.29,100.00 700.03,105.71 702.77,97.86 705.51,164.29 708.25,190.00 710.98,192.14 713.72,194.29 716.46,175.71 719.20,152.86 721.94,140.00 724.68,129.29 727.42,138.57 730.15,220.00 732.89,228.57 735.63,203.57 738.37,180.00 741.11,221.00 743.85,217.00 746.58,211.00 749.32,208.00 752.06,214.00 754.80,192.86 757.54,165.71 760.28,195.71 763.01,200.71 765.75,235.71 768.49,211.43 771.23,227.14 773.97,215.00 776.71,203.57 779.45,157.86 782.18,180.00 784.92,182.86 787.66,167.14 790.40,148.57 793.14,126.43 795.88,204.29 798.61,267.14 801.35,275.00 804.09,254.29 806.83,264.29 809.57,237.14 812.31,232.14 815.05,257.14 817.78,192.86 820.52,219.50 823.26,224.50 826.00,201.43 828.74,200.00 831.48,197.14 834.21,223.57 836.95,250.00 839.69,227.86 842.43,203.57 845.17,185.71 847.91,227.86 850.65,243.57 853.38,227.14 856.12,202.86 858.86,196.43 861.60,199.29 864.34,202.86 867.08,208.57 869.81,217.14 872.55,213.57 875.29,237.14 878.03,250.71 880.77,234.29 883.51,221.43 886.25,263.57 888.98,290.71 891.72,270.71 894.46,277.14 897.20,270.71 899.94,268.57 902.68,261.43 905.41,270.71 908.15,254.29 910.89,282.14 913.63,280.71 916.37,284.29 919.11,280.00 921.85,279.29 924.58,290.71 927.32,283.57 930.06,297.14 932.80,302.86 935.54,285.00 938.28,258.57 941.01,265.71 943.75,262.14 946.49,287.86 949.23,292.86 951.97,295.71 954.71,297.86 957.45,306.43 960.18,323.57 962.92,340.00 965.66,348.57 968.40,358.57 971.14,297.86 973.88,288.57 976.61,315.71 979.35,323.57 982.09,317.14 984.83,326.43 987.57,323.57 990.31,332.14 993.05,351.43 995.78,344.29" fill="none" stroke="#000" stroke-width="1.1" stroke-linejoin="round"/>
</g>
<rect x="78.5" y="60.5" width="997.0" height="385.0" fill="none" stroke="#000" stroke-width="1.1"/>
<path d="M78.50 445.5v4.9 M163.50 445.5v4.9 M240.50 445.5v4.9 M325.50 445.5v4.9 M407.50 445.5v4.9 M492.50 445.5v4.9 M574.50 445.5v4.9 M659.50 445.5v4.9 M744.50 445.5v4.9 M826.50 445.5v4.9 M911.50 445.5v4.9 M993.50 445.5v4.9 M78.5 419.50h-4.9 M78.5 367.50h-4.9 M78.5 316.50h-4.9 M78.5 265.50h-4.9 M78.5 213.50h-4.9 M78.5 162.50h-4.9 M78.5 111.50h-4.9" stroke="#000" stroke-width="1.1" fill="none"/>
<text x="63.22" y="468.8" font-family="Liberation Sans, sans-serif" font-size="17.7" letter-spacing="-0.781" fill="#000" stroke="#000" stroke-width="0.18">Ene</text>
<text x="149.22" y="468.8" font-family="Liberation Sans, sans-serif" font-size="17.7" letter-spacing="-1.491" fill="#000" stroke="#000" stroke-width="0.18">Feb</text>
<text x="225.26" y="468.8" font-family="Liberation Sans, sans-serif" font-size="17.7" letter-spacing="-0.134" fill="#000" stroke="#000" stroke-width="0.18">Mar</text>
<text x="310.03" y="468.8" font-family="Liberation Sans, sans-serif" font-size="17.7" letter-spacing="0.888" fill="#000" stroke="#000" stroke-width="0.18">Abr</text>
<text x="390.26" y="468.8" font-family="Liberation Sans, sans-serif" font-size="17.7" letter-spacing="-0.134" fill="#000" stroke="#000" stroke-width="0.18">May</text>
<text x="477.03" y="468.8" font-family="Liberation Sans, sans-serif" font-size="17.7" letter-spacing="-0.629" fill="#000" stroke="#000" stroke-width="0.18">Jun</text>
<text x="562.03" y="468.8" font-family="Liberation Sans, sans-serif" font-size="17.7" letter-spacing="-0.69" fill="#000" stroke="#000" stroke-width="0.18">Jul</text>
<text x="642.03" y="468.8" font-family="Liberation Sans, sans-serif" font-size="17.7" letter-spacing="0.268" fill="#000" stroke="#000" stroke-width="0.18">Ago</text>
<text x="727.75" y="468.8" font-family="Liberation Sans, sans-serif" font-size="17.7" letter-spacing="-0.519" fill="#000" stroke="#000" stroke-width="0.18">Sep</text>
<text x="812.81" y="468.8" font-family="Liberation Sans, sans-serif" font-size="17.7" letter-spacing="0.125" fill="#000" stroke="#000" stroke-width="0.18">Oct</text>
<text x="895.26" y="468.8" font-family="Liberation Sans, sans-serif" font-size="17.7" letter-spacing="-0.128" fill="#000" stroke="#000" stroke-width="0.18">Nov</text>
<text x="980.22" y="468.8" font-family="Liberation Sans, sans-serif" font-size="17.7" letter-spacing="-0.049" fill="#000" stroke="#000" stroke-width="0.18">Dic</text>
<text x="57.39" y="374.55" font-family="Liberation Sans, sans-serif" font-size="20.6" letter-spacing="0" fill="#000" stroke="#000" stroke-width="0.18">0</text>
<text x="57.30" y="323.75" font-family="Liberation Sans, sans-serif" font-size="20.6" letter-spacing="0" fill="#000" stroke="#000" stroke-width="0.18">5</text>
<text x="44.16" y="271.85" font-family="Liberation Sans, sans-serif" font-size="20.6" letter-spacing="0.524" fill="#000" stroke="#000" stroke-width="0.18">10</text>
<text x="44.16" y="220.95" font-family="Liberation Sans, sans-serif" font-size="20.6" letter-spacing="-0.098" fill="#000" stroke="#000" stroke-width="0.18">15</text>
<text x="43.96" y="169.95" font-family="Liberation Sans, sans-serif" font-size="20.6" letter-spacing="1.115" fill="#000" stroke="#000" stroke-width="0.18">20</text>
<text x="43.96" y="117.95" font-family="Liberation Sans, sans-serif" font-size="20.6" letter-spacing="0.394" fill="#000" stroke="#000" stroke-width="0.18">25</text>
<text x="56.00" y="425.8" font-family="Liberation Sans, sans-serif" font-size="20.6" letter-spacing="0" fill="#000" stroke="#000" stroke-width="0.18">5</text>
<text transform="translate(41.32,427.3) scale(1.18,1)" font-family="Liberation Sans, sans-serif" font-size="20.6" fill="#000" stroke="#000" stroke-width="0.18">−</text>
<text x="273.38" y="31.9" font-family="Liberation Sans, sans-serif" font-size="26.5" letter-spacing="0.824" fill="#2d6ca6" stroke="#2d6ca6" stroke-width="0.25">Temperatura Media diaria - Quintana del Castillo</text>
<text x="49.49" y="54.5" font-family="Liberation Sans, sans-serif" font-size="17.7" letter-spacing="-0.799" fill="#000" stroke="#000" stroke-width="0.18">°C</text>
<text x="82.76" y="54.5" font-family="Liberation Sans, sans-serif" font-size="17.7" letter-spacing="0.73" fill="#000" stroke="#000" stroke-width="0.18">Última temp: 2025-12-02</text>
<text x="89.80" y="84.0" font-family="Liberation Sans, sans-serif" font-size="22.4" letter-spacing="-0.143" fill="#2d6ca6" stroke="#2d6ca6" stroke-width="0.25">WWW.EMBALSES.NET</text>
<rect x="185.5" y="476.5" width="783" height="30" rx="4" fill="#fff" stroke="#d2d2d2" stroke-width="1.1"/>
<path d="M192.6 491.4h33.3" stroke="#ff0000" stroke-width="0.95" stroke-dasharray="2.6 1.1"/>
<path d="M370.4 491.4h33.3" stroke="#add8e6" stroke-width="1.4" stroke-dasharray="5.1 2.2"/>
<path d="M537.9 491.4h33.3" stroke="#000" stroke-width="2.8" stroke-linecap="square"/>
<path d="M799.3 491.4h33.3" stroke="#000" stroke-width="1.1"/>
<text x="238.92" y="496.5" font-family="Liberation Sans, sans-serif" font-size="17.7" letter-spacing="0.347" fill="#000" stroke="#000" stroke-width="0.18">Percentil 95</text>
<text x="416.52" y="496.5" font-family="Liberation Sans, sans-serif" font-size="17.7" letter-spacing="0.372" fill="#000" stroke="#000" stroke-width="0.18">Percentil 5</text>
<text x="584.05" y="496.5" font-family="Liberation Sans, sans-serif" font-size="17.7" letter-spacing="0.514" fill="#000" stroke="#000" stroke-width="0.18">Temperatura Mediana</text>
<text x="845.95" y="496.5" font-family="Liberation Sans, sans-serif" font-size="17.7" letter-spacing="0.385" fill="#000" stroke="#000" stroke-width="0.18">T. Media 2025</text>
</svg>
</body></html>
